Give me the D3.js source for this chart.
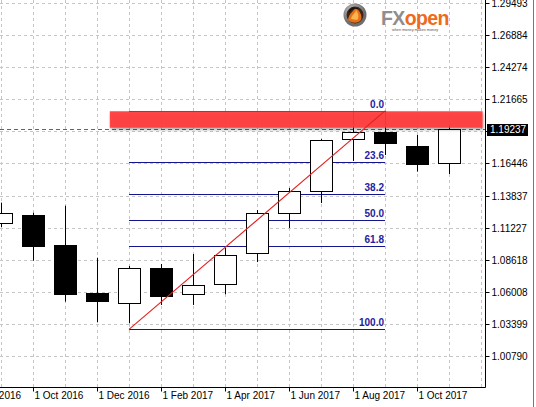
<!DOCTYPE html>
<html>
<head>
<meta charset="utf-8">
<title>EURUSD monthly fibonacci</title>
<script src="https://d3js.org/d3.v7.min.js"></script>
<style>
  body { margin: 0; background: #fff; }
  svg { display: block; font-family: 'Liberation Sans', Arial, sans-serif; }
</style>
</head>
<body>
<svg width="536" height="407"></svg>
<script>
// monthly bars, Sep 2016 .. Nov 2017
var months = ['Sep 2016', 'Oct 2016', 'Nov 2016', 'Dec 2016', 'Jan 2017', 'Feb 2017', 'Mar 2017',
  'Apr 2017', 'May 2017', 'Jun 2017', 'Jul 2017', 'Aug 2017', 'Sep 2017', 'Oct 2017', 'Nov 2017'];
var opens  = [1.1158, 1.1226, 1.0982, 1.0594, 1.0512, 1.0792, 1.0581, 1.0662, 1.0917, 1.1242, 1.1421, 1.1841, 1.1903, 1.1787, 1.1646];
var highs  = [1.1326, 1.1244, 1.1301, 1.0878, 1.0811, 1.0827, 1.0908, 1.0957, 1.1266, 1.1445, 1.1843, 1.2063, 1.2072, 1.1876, 1.1961];
var lows   = [1.1126, 1.0854, 1.0521, 1.0353, 1.0345, 1.0494, 1.0494, 1.0581, 1.0843, 1.1120, 1.1323, 1.1665, 1.1713, 1.1578, 1.1559];
var closes = [1.1239, 1.0976, 1.0586, 1.0529, 1.0792, 1.0569, 1.0654, 1.0898, 1.1242, 1.1421, 1.1835, 1.1903, 1.1813, 1.1640, 1.19237];

// axis ticks
var yTicks = [1.29493, 1.26884, 1.24274, 1.21665, 1.19056, 1.16446, 1.13837, 1.11227, 1.08618, 1.06008, 1.03399, 1.00790];
var xTickIdx = [-1, 1, 3, 5, 7, 9, 11, 13];
var xTickLabels = ['1 Aug 2016', '1 Oct 2016', '1 Dec 2016', '1 Feb 2017', '1 Apr 2017', '1 Jun 2017', '1 Aug 2017', '1 Oct 2017'];

// fibonacci retracement (Jan 2017 low -> Sep 2017 high)
var fibLevels = [0, 23.6, 38.2, 50, 61.8, 100];
var fibHigh = 1.2072, fibLow = 1.0295;
var fibFrom = 4, fibTo = 12;

// resistance zone and current price
var zoneTop = 1.2069, zoneBottom = 1.1935, zoneFrom = 3.4, zoneTo = 15.05;
var lastPrice = 1.19237;

var W = 536, H = 407, plotR = 485, plotB = 387;
var svg = d3.select('svg');

var x = d3.scaleLinear().domain([0, 14]).range([1, 449]);
var y = d3.scaleLinear().domain([1.00790, 1.29493]).range([356, 3]);

var defs = svg.append('defs');
defs.append('clipPath').attr('id', 'plot')
  .append('rect').attr('width', plotR).attr('height', plotB);
var sh = defs.append('filter').attr('id', 'shadow')
  .attr('x', '-5%').attr('y', '-30%').attr('width', '110%').attr('height', '180%');
sh.append('feDropShadow').attr('dx', 1).attr('dy', 2).attr('stdDeviation', 1.5)
  .attr('flood-color', '#000').attr('flood-opacity', 0.35);

var plot = svg.append('g').attr('clip-path', 'url(#plot)');

// grid
plot.append('g').selectAll('line')
  .data(yTicks).enter().append('line')
  .attr('x1', 0).attr('x2', plotR)
  .attr('y1', d => Math.round(y(d)) + 0.5).attr('y2', d => Math.round(y(d)) + 0.5)
  .attr('stroke', '#c6c6c6').attr('stroke-dasharray', '3,3');
plot.append('g').selectAll('line')
  .data(d3.range(0, 16)).enter().append('line')
  .attr('x1', d => Math.round(x(d)) + 0.5).attr('x2', d => Math.round(x(d)) + 0.5)
  .attr('y1', 0).attr('y2', plotB)
  .attr('stroke', '#c6c6c6').attr('stroke-dasharray', '3,3');

// current price line
plot.append('line')
  .attr('x1', 0).attr('x2', plotR)
  .attr('y1', Math.round(y(lastPrice)) + 0.5).attr('y2', Math.round(y(lastPrice)) + 0.5)
  .attr('stroke', '#2e8b2e').attr('stroke-dasharray', '4,3');

// fib lines
var fibY = p => y(fibHigh - (fibHigh - fibLow) * p / 100);
plot.append('g').selectAll('line')
  .data(fibLevels).enter().append('line')
  .attr('x1', x(fibFrom)).attr('x2', x(fibTo))
  .attr('y1', d => Math.round(fibY(d)) + 0.5).attr('y2', d => Math.round(fibY(d)) + 0.5)
  .attr('stroke', '#14148c').attr('stroke-width', 1);
plot.append('g').selectAll('text')
  .data(fibLevels).enter().append('text')
  .attr('x', x(fibTo) - 1).attr('y', d => Math.round(fibY(d)) - 3)
  .attr('text-anchor', 'end')
  .attr('font-size', 10).attr('font-weight', 'bold').attr('fill', '#2222a0')
  .text(d => d.toFixed(1));

// candles
var bars = d3.range(months.length).map(i => ({
  i: i, o: opens[i], h: highs[i], l: lows[i], c: closes[i]
}));
var cg = plot.append('g');
cg.selectAll('line').data(bars).enter().append('line')
  .attr('x1', d => Math.round(x(d.i)) + 0.5).attr('x2', d => Math.round(x(d.i)) + 0.5)
  .attr('y1', d => y(d.h)).attr('y2', d => y(d.l))
  .attr('stroke', '#000');
cg.selectAll('rect').data(bars).enter().append('rect')
  .attr('x', d => Math.round(x(d.i)) - 10.5)
  .attr('width', 22)
  .attr('y', d => Math.round(y(Math.max(d.o, d.c))) + 0.5)
  .attr('height', d => Math.max(1, Math.round(y(Math.min(d.o, d.c))) - Math.round(y(Math.max(d.o, d.c)))))
  .attr('fill', d => d.c >= d.o ? '#fff' : '#000')
  .attr('stroke', '#000').attr('stroke-width', 1);

// resistance zone
plot.append('rect')
  .attr('x', x(zoneFrom)).attr('width', x(zoneTo) - x(zoneFrom))
  .attr('y', y(zoneTop)).attr('height', y(zoneBottom) - y(zoneTop))
  .attr('fill', '#ff3a3a').attr('fill-opacity', 0.93)
  .attr('filter', 'url(#shadow)');

// trend line
plot.append('line')
  .attr('x1', x(fibFrom)).attr('y1', y(fibLow))
  .attr('x2', x(fibTo)).attr('y2', y(fibHigh))
  .attr('stroke', '#e41e1e').attr('stroke-width', 1.1);

// frame
svg.append('line').attr('x1', 0).attr('x2', plotR + 0.5).attr('y1', plotB + 0.5).attr('y2', plotB + 0.5).attr('stroke', '#000');
svg.append('line').attr('x1', plotR + 0.5).attr('x2', plotR + 0.5).attr('y1', 0).attr('y2', plotB + 0.5).attr('stroke', '#000');
svg.append('line').attr('x1', W - 2.5).attr('x2', W - 2.5).attr('y1', 0).attr('y2', H).attr('stroke', '#777');

// y axis
var yAxis = d3.axisRight(y).tickValues(yTicks).tickSize(4).tickPadding(2)
  .tickFormat(d => Math.abs(d - 1.19056) < 1e-6 ? '' : d3.format('.5f')(d));
var ya = svg.append('g').attr('transform', 'translate(' + (plotR + 0.5) + ',0)').call(yAxis);
ya.select('.domain').remove();
ya.selectAll('.tick').attr('transform', d => 'translate(0,' + (Math.round(y(d)) + 0.5) + ')');
ya.selectAll('text').attr('font-family', "'Liberation Sans', Arial, sans-serif").attr('font-size', 10).attr('fill', '#000');

// x axis
var xAxis = d3.axisBottom(x).tickValues(xTickIdx).tickSize(4).tickPadding(3)
  .tickFormat((d, i) => xTickLabels[i]);
var xa = svg.append('g').attr('transform', 'translate(0,' + (plotB + 0.5) + ')').call(xAxis);
xa.select('.domain').remove();
xa.selectAll('.tick').attr('transform', d => 'translate(' + (Math.round(x(d)) + 0.5) + ',0)');
xa.selectAll('text').attr('text-anchor', 'start').attr('x', 1).attr('y', 4)
  .attr('font-family', "'Liberation Sans', Arial, sans-serif").attr('font-size', 10).attr('fill', '#000');

// price label
var py = Math.round(y(lastPrice));
svg.append('rect').attr('x', 487).attr('y', py - 5).attr('width', 41).attr('height', 12).attr('fill', '#000');
svg.append('text').attr('x', 490).attr('y', py + 1).attr('dominant-baseline', 'middle')
  .attr('font-size', 10).attr('fill', '#fff').text(lastPrice.toFixed(5));

// logo
var logo = svg.append('g').attr('transform', 'translate(355,15)');
var rg = defs.append('radialGradient').attr('id', 'ring').attr('cx', '40%').attr('cy', '35%');
rg.append('stop').attr('offset', '0%').attr('stop-color', '#d8d8d8');
rg.append('stop').attr('offset', '100%').attr('stop-color', '#6e6e6e');
logo.append('circle').attr('r', 11.5).attr('fill', 'url(#ring)');
logo.append('circle').attr('r', 8.5).attr('fill', '#3b2619');
logo.append('path').attr('d', 'M-7,5 C-6,-2 -1,-4 1,-8 C4,-4 8,0 6,5 C4,8 -3,9 -7,5 Z').attr('fill', '#e5701c');
logo.append('path').attr('d', 'M-4,4 C-3,-1 1,-2 1,-5 C4,-1 4,3 2,5 Z').attr('fill', '#f7b54c');
logo.append('path').attr('d', 'M-6,-3 C-4,-7 0,-8 3,-6').attr('fill', 'none').attr('stroke', '#1e120b').attr('stroke-width', 1.5);
var lt = svg.append('text').attr('x', 381).attr('y', 25).attr('font-size', 19.5).attr('font-weight', 'bold')
  .attr('letter-spacing', -0.6);
lt.append('tspan').attr('fill', '#8e8e8e').text('FX');
lt.append('tspan').attr('fill', '#ee6a1c').text('open');
svg.append('text').attr('x', 392).attr('y', 31).attr('font-size', 3.8).attr('fill', '#555')
  .text('when money makes money');
</script>
</body>
</html>
